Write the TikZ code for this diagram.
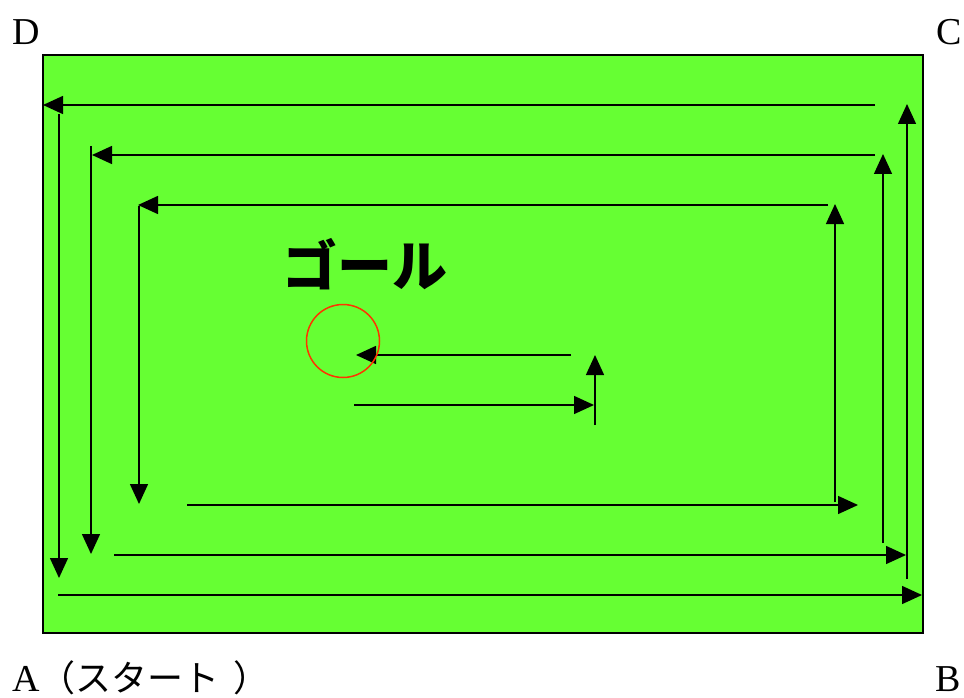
\documentclass[tikz,border=0pt]{standalone}
\usepackage{fontspec}
\setmainfont{Liberation Serif}
\newfontfamily\jp{Noto Sans CJK JP}
\usetikzlibrary{arrows.meta}
\definecolor{field}{HTML}{66FF33}
\definecolor{goalred}{HTML}{FF3300}
\tikzset{
  run/.style={line width=1.5pt,-{Triangle[length=20pt,width=18pt]}},
  corner/.style={font=\fontsize{38}{40}\selectfont,inner sep=0pt},
}
\begin{document}
\begin{tikzpicture}[x=1pt,y=-1pt]
\useasboundingbox (0,0) rectangle (964,698);
\draw[line width=2pt,fill=field] (43,55) rectangle (923,633);
% outer loop
\draw[run] (875,105) -- (43,105);
\draw[run] (59,114) -- (59,578);
\draw[run] (58,595) -- (922,595);
\draw[run] (907,579) -- (907,104);
% second loop
\draw[run] (875,155) -- (92,155);
\draw[run] (91,146) -- (91,554);
\draw[run] (114,555) -- (906,555);
\draw[run] (883,543) -- (883,154);
% third loop
\draw[run] (828,205) -- (138,205);
\draw[run] (139,206) -- (139,504);
\draw[run] (187,505) -- (858,505);
\draw[run] (835,502) -- (835,204);
% inner
\draw[run] (595,425) -- (595,355);
\draw[run] (354,405) -- (594,405);
\draw[run] (571,355) -- (356,355);
\node[circle,draw=goalred,line width=1.5pt,minimum size=73pt,inner sep=0pt] (goal) at (343,341) {};
\node[inner sep=0pt,font=\jp\bfseries\fontsize{55}{57}\selectfont] (goaltext) at (365,264) {ゴール};
\node[corner,anchor=base west] (D) at (12,45) {D};
\node[corner,anchor=base east] (C) at (962,45) {C};
\node[corner,anchor=base west] (A) at (12,691) {A{\jp\fontsize{36}{40}\selectfont （スタート\hspace{14pt}）}};
\node[corner,anchor=base east] (B) at (961,691) {B};
\end{tikzpicture}
\end{document}
